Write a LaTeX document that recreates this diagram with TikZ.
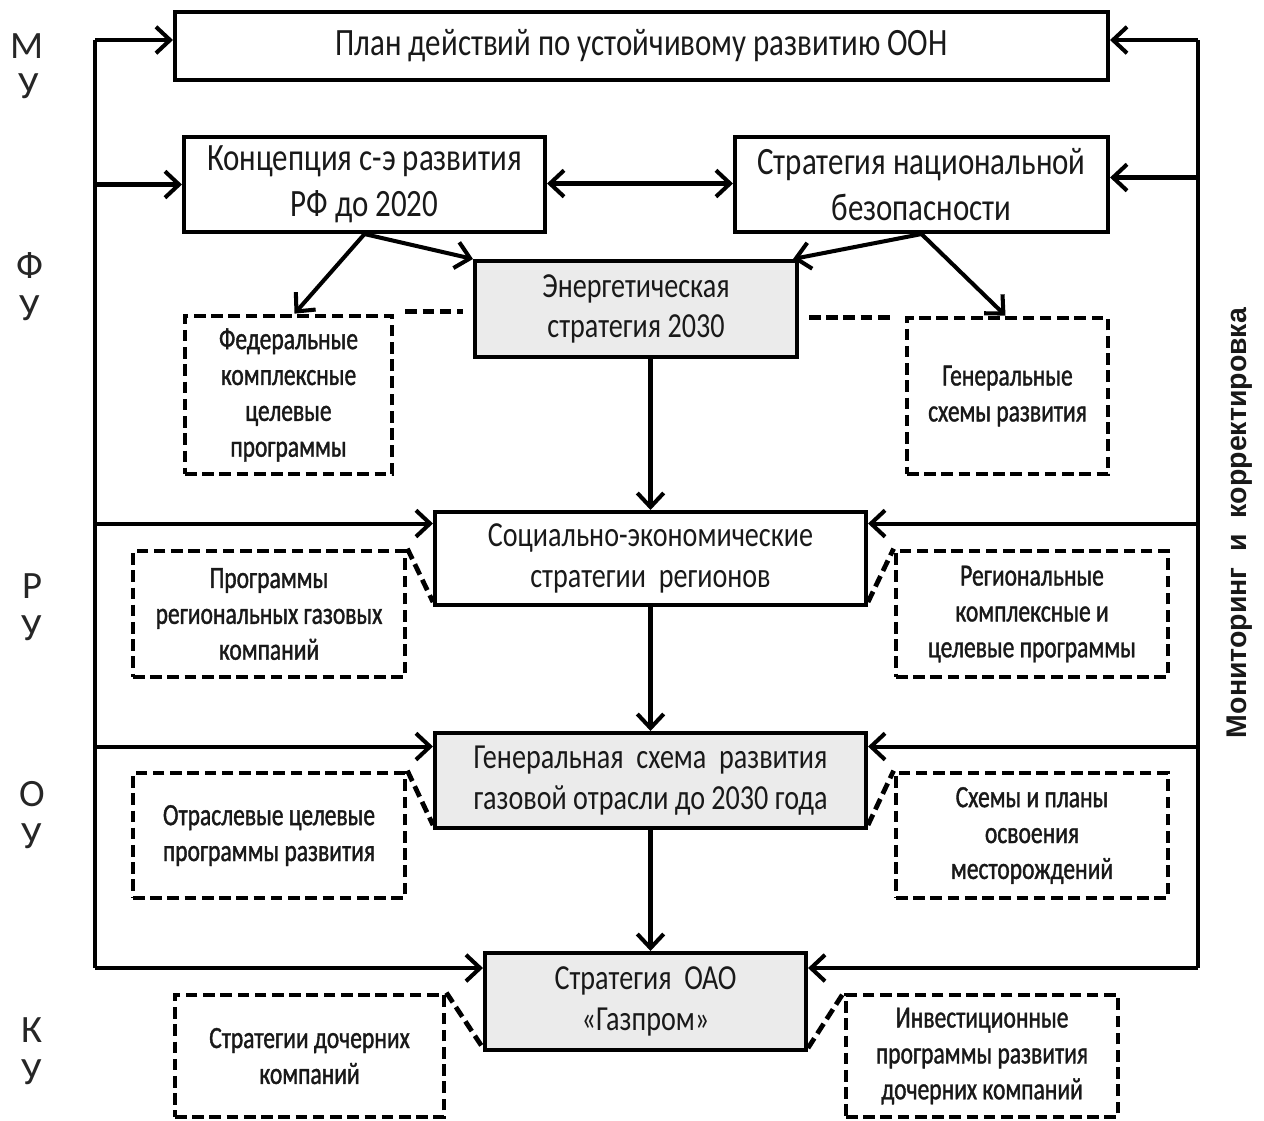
\documentclass[tikz,border=0pt]{standalone}
\usepackage{fontspec}
\setmainfont{Carlito}
\newfontfamily\boxfont[FakeStretch=0.8]{Carlito}
\newfontfamily\dashfont[FakeStretch=0.76,FakeBold=1.2]{Carlito}
\newfontfamily\sidefont{Liberation Sans}
\usetikzlibrary{arrows.meta,calc}

\begin{document}
\begin{tikzpicture}[x=0.01cm,y=-0.01cm,
  lw/.style={line width=1.15pt},
  dlw/.style={line width=1.35pt, dash pattern=on 3.3pt off 1.6pt},
  sz/.style 2 args={minimum width=#1*0.01cm, minimum height=#2*0.01cm},
  solidbox/.style={draw, lw, inner sep=0pt, align=center, text=black!90},
  mainbox/.style={solidbox, fill=white, font=\boxfont\fontsize{11}{13.1}\selectfont},
  midbox/.style={solidbox, fill=white, font=\boxfont\fontsize{10}{11.6}\selectfont},
  graybox/.style={solidbox, fill=black!8, font=\boxfont\fontsize{10}{11.6}\selectfont},
  dashbox/.style={draw, dlw, inner sep=0pt,
    align=center, text=black!90, font=\dashfont\fontsize{8.8}{10.2}\selectfont},
  dline/.style={dlw},
  arr/.style={lw, -{Straight Barb[length=4pt,width=7.5pt]}},
  biarr/.style={lw, {Straight Barb[length=4pt,width=7.5pt]}-{Straight Barb[length=4pt,width=7.5pt]}},
  lvl/.style={font=\fontsize{11}{13}\selectfont, text=black!85},
]
\useasboundingbox (0,0) rectangle (1264,1120);

% level letters on the left
\node[lvl] (m1) at (27,46) {М};
\node[lvl] (m2) at (29,86) {У};
\node[lvl] (f1) at (30,266) {Ф};
\node[lvl] (f2) at (30,308) {У};
\node[lvl] (r1) at (32,586) {Р};
\node[lvl] (r2) at (32,628) {У};
\node[lvl] (o1) at (32,794) {О};
\node[lvl] (o2) at (32,836) {У};
\node[lvl] (k1) at (32,1030) {К};
\node[lvl] (k2) at (32,1072) {У};

% vertical label on the right
\node[rotate=90, font=\sidefont\bfseries\fontsize{8.1}{10}\selectfont, text=black!90] (mon) at (1240,523)
  {Мониторинг\ \ и\ \ корректировка};

% solid boxes
\node[mainbox, sz={933}{68}] (top) at (641.5,46) {План действий по устойчивому развитию ООН};
\node[mainbox, sz={361}{95}] (konc) at (364.5,184.5) {Концепция с-э развития\\РФ до 2020};
\node[mainbox, sz={373}{95}] (nac) at (921.5,184.5) {Стратегия национальной\\безопасности};
\node[graybox, sz={322}{96}] (energ) at (636,309) {Энергетическая\\стратегия 2030};
\node[midbox, sz={431}{93}] (soc) at (650.5,558.5) {Социально-экономические\\стратегии\ \ регионов};
\node[graybox, sz={431}{95}] (gsh) at (650.5,780.5) {Генеральная\ \ схема\ \ развития\\газовой отрасли до 2030 года};
\node[graybox, sz={321}{97}] (gaz) at (645.5,1001.5) {Стратегия\ \ ОАО\\«Газпром»};

% dashed boxes
\node[dashbox, sz={207}{158}] (fed) at (288.5,395) {Федеральные\\комплексные\\целевые\\программы};
\node[dashbox, sz={201}{156}] (gen) at (1007.5,396) {Генеральные\\схемы развития};
\node[dashbox, sz={272}{126}] (prog) at (269,614) {Программы\\региональных газовых\\компаний};
\node[dashbox, sz={272}{126}] (reg) at (1032,614) {Региональные\\комплексные и\\целевые программы};
\node[dashbox, sz={272}{125}] (otr) at (269,835.5) {Отраслевые целевые\\программы развития};
\node[dashbox, sz={272}{125}] (sxem) at (1032,835.5) {Схемы и планы\\освоения\\месторождений};
\node[dashbox, sz={269}{122}] (doch) at (309.5,1056) {Стратегии дочерних\\компаний};
\node[dashbox, sz={272}{122}] (inv) at (982,1056) {Инвестиционные\\программы развития\\дочерних компаний};

% feedback rails
\coordinate (lt) at (95,40);
\coordinate (lb) at (95,968);
\coordinate (rt) at (1198,40);
\coordinate (rb) at (1198,968);
\draw[lw] (lb) -- (lt);
\draw[lw] (rb) -- (rt);

\draw[arr] (lt) -- (lt -| top.west);
\draw[arr] (rt) -- (rt -| top.east);
\draw[arr] (lt |- konc.west) -- (konc.west);
\draw[arr] ($(rt |- nac.east)+(0,-7)$) -- ($(nac.east)+(0,-7)$);
\draw[arr] ($(lt |- soc.west)+(0,-35)$) -- ($(soc.west)+(0,-35)$);
\draw[arr] ($(rt |- soc.east)+(0,-35)$) -- ($(soc.east)+(0,-35)$);
\draw[arr] ($(lt |- gsh.west)+(0,-34)$) -- ($(gsh.west)+(0,-34)$);
\draw[arr] ($(rt |- gsh.east)+(0,-34)$) -- ($(gsh.east)+(0,-34)$);
\draw[arr] (lb) -- (lb -| gaz.west);
\draw[arr] (rb) -- (rb -| gaz.east);

% main links
\draw[biarr] ($(konc.east)+(0,-1)$) -- ($(nac.west)+(0,-1)$);
\draw[arr] (konc.south) -- (energ.north west);
\draw[arr] (nac.south) -- ($(energ.north east)+(-6,0)$);
\draw[arr] (konc.south) -- ($(fed.north)+(6,0)$);
\draw[arr] (nac.south) -- ($(gen.north)+(-2,0)$);
\draw[arr] (energ.south -| soc.north) -- (soc.north);
\draw[arr] (soc.south) -- (gsh.north);
\draw[arr] (gsh.south) -- (gsh.south |- gaz.north);

% dashed associations
\draw[dline] ($(fed.north east)+(11,-2)$) -- ($(energ.west |- fed.north)+(-10,-2)$);
\draw[dline] ($(energ.east |- gen.north)+(10,2)$) -- ($(gen.north west)+(-14,2)$);
\draw[dline] (prog.north east) -- ($(soc.south west)+(0,-5)$);
\draw[dline] ($(soc.south east)+(0,-5)$) -- (reg.north west);
\draw[dline] (otr.north east) -- ($(gsh.south west)+(0,-5)$);
\draw[dline] ($(gsh.south east)+(0,-5)$) -- (sxem.north west);
\draw[dline] (doch.north east) -- ($(gaz.south west)+(0,-4)$);
\draw[dline] ($(gaz.south east)+(0,-4)$) -- (inv.north west);
\end{tikzpicture}
\end{document}
